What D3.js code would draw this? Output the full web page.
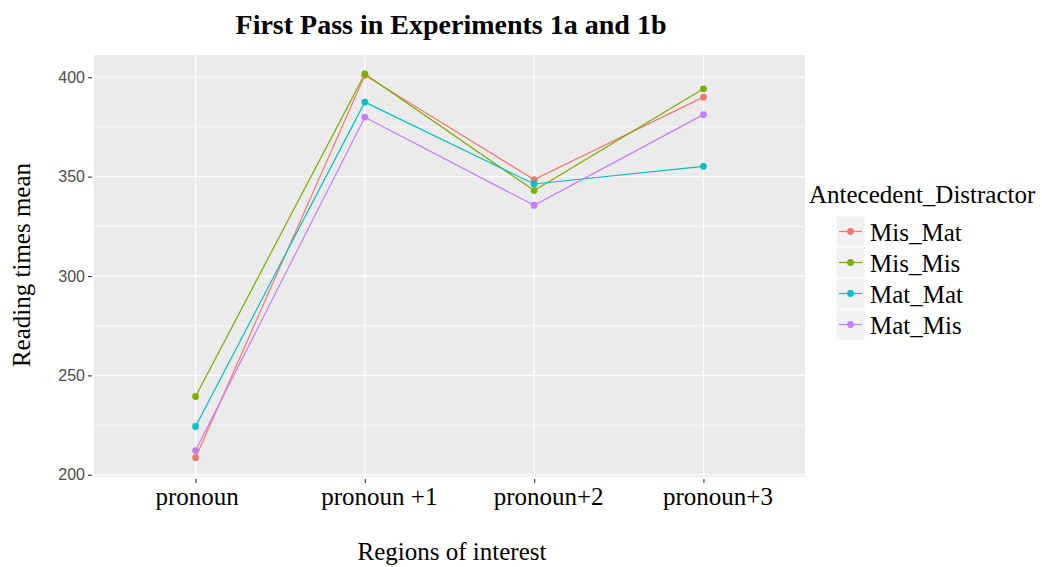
<!DOCTYPE html>
<html><head><meta charset="utf-8">
<script src="https://cdn.jsdelivr.net/npm/d3@7"></script>
<style>body{margin:0;background:#fff}svg{display:block}</style>
</head><body>
<svg id="c" width="1042" height="567"></svg>
<script>
const categories = ["pronoun", "pronoun +1", "pronoun+2", "pronoun+3"];
const seriesNames = ["Mis_Mat", "Mis_Mis", "Mat_Mat", "Mat_Mis"];
const misMat = [208.6, 401.0, 348.5, 390.0];
const misMis = [239.4, 401.7, 343.0, 394.2];
const matMat = [224.3, 387.5, 346.3, 355.2];
const matMis = [212.2, 379.9, 335.6, 381.2];
const colors = ["#F8766D", "#7CAE00", "#00BFC4", "#C77CFF"];
const yTicks = [200, 250, 300, 350, 400];
const yMinor = [225, 275, 325, 375];
const seriesValues = [misMat, misMis, matMat, matMis];

const svg = d3.select("#c");
const L = 94, R = 805, T = 55, B = 477;
const x = d3.scalePoint().domain(categories).range([L, R]).padding(0.6);
const y = d3.scaleLinear().domain([198.9, 411.2]).range([B, T]);

svg.append("rect").attr("x", L).attr("y", T).attr("width", R - L).attr("height", B - T).attr("fill", "#EBEBEB");
const g = svg.append("g");
g.selectAll(".ymin").data(yMinor).join("line")
  .attr("x1", L).attr("x2", R).attr("y1", d => y(d)).attr("y2", d => y(d))
  .attr("stroke", "#fff").attr("stroke-width", 0.6);
g.selectAll(".ymaj").data(yTicks).join("line")
  .attr("x1", L).attr("x2", R).attr("y1", d => y(d)).attr("y2", d => y(d))
  .attr("stroke", "#fff").attr("stroke-width", 1.2);
g.selectAll(".xmaj").data(categories).join("line")
  .attr("x1", d => x(d)).attr("x2", d => x(d)).attr("y1", T).attr("y2", B)
  .attr("stroke", "#fff").attr("stroke-width", 1.2);

// axes
const yAxis = d3.axisLeft(y).tickValues(yTicks).tickSize(4).tickPadding(3);
const ya = svg.append("g").attr("transform", `translate(${L - 2},0)`).call(yAxis);
ya.select(".domain").remove();
ya.selectAll("line").attr("stroke", "#333").attr("stroke-width", 1.1);
ya.selectAll("text").attr("fill", "#4D4D4D").style("font-family", "Liberation Sans, Arial, sans-serif").style("font-size", "16px");

const xAxis = d3.axisBottom(x).tickSize(4).tickPadding(4);
const xa = svg.append("g").attr("transform", `translate(0,${B + 2})`).call(xAxis);
xa.select(".domain").remove();
xa.selectAll("line").attr("stroke", "#333").attr("stroke-width", 1.1);
xa.selectAll("text").attr("fill", "#000").attr("dy", null).attr("y", 26)
  .attr("dx", d => d.includes("+") ? 14 : 1)
  .style("font-family", "Liberation Serif, Times New Roman, serif").style("font-size", "25px");

// lines and points
const line = d3.line().x((d, i) => x(categories[i])).y(d => y(d));
seriesValues.forEach((vals, s) => {
  svg.append("path").datum(vals).attr("d", line).attr("fill", "none")
    .attr("stroke", colors[s]).attr("stroke-width", 1.2);
});
seriesValues.forEach((vals, s) => {
  svg.selectAll(null).data(vals).join("circle")
    .attr("cx", (d, i) => x(categories[i])).attr("cy", d => y(d)).attr("r", 3.4)
    .attr("fill", colors[s]);
});

// titles
const serif = "Liberation Serif, Times New Roman, serif";
svg.append("text").attr("x", 451).attr("y", 34).attr("text-anchor", "middle")
  .style("font-family", serif).style("font-weight", "bold").style("font-size", "28px")
  .text("First Pass in Experiments 1a and 1b");
svg.append("text").attr("x", 452).attr("y", 560).attr("text-anchor", "middle")
  .style("font-family", serif).style("font-size", "25px").text("Regions of interest");
svg.append("text").attr("transform", "translate(30,265) rotate(-90)").attr("text-anchor", "middle")
  .style("font-family", serif).style("font-size", "25px").text("Reading times mean");

// legend
const lg = svg.append("g");
lg.append("text").attr("x", 809).attr("y", 203)
  .style("font-family", serif).style("font-size", "25px").text("Antecedent_Distractor");
const rowH = 31, ky0 = 216;
seriesNames.forEach((n, i) => {
  const cy = ky0 + i * rowH + rowH / 2;
  lg.append("rect").attr("x", 836).attr("y", ky0 + i * rowH).attr("width", 29).attr("height", rowH)
    .attr("fill", "#F2F2F2").attr("stroke", "#fff").attr("stroke-width", 1);
  lg.append("line").attr("x1", 839).attr("x2", 862).attr("y1", cy).attr("y2", cy)
    .attr("stroke", colors[i]).attr("stroke-width", 1.2);
  lg.append("circle").attr("cx", 850.5).attr("cy", cy).attr("r", 3.4).attr("fill", colors[i]);
  lg.append("text").attr("x", 870).attr("y", cy + 9)
    .style("font-family", serif).style("font-size", "25px").text(n);
});
</script>
</body></html>
